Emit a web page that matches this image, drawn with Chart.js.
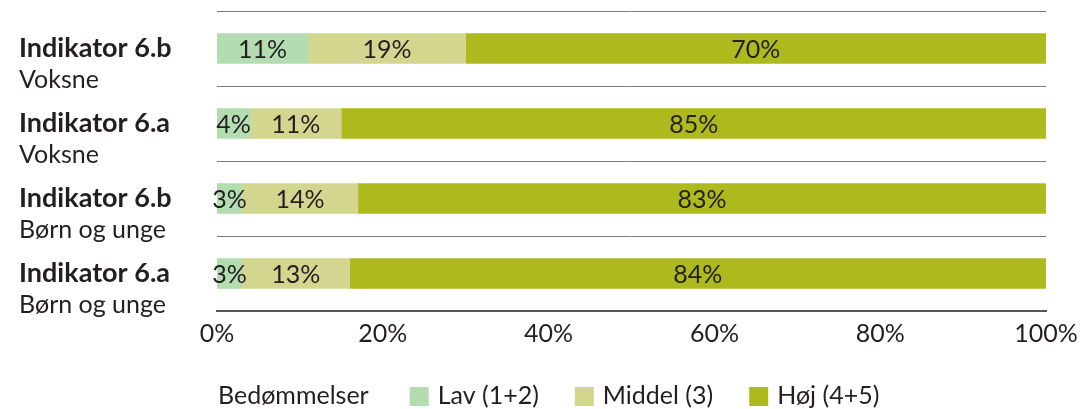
<!DOCTYPE html>
<html>
<head>
<meta charset="utf-8">
<script src="https://cdn.jsdelivr.net/npm/chart.js@4"></script>
<style>
  html, body { margin: 0; padding: 0; background: #fff; }
</style>
</head>
<body>
<canvas id="graf" width="1081" height="409"></canvas>
<script>
// Kategorier (to linjer pr. søjle)
const indikatorer = ["Indikator 6.b", "Indikator 6.a", "Indikator 6.b", "Indikator 6.a"];
const grupper = ["Voksne", "Voksne", "Børn og unge", "Børn og unge"];

// Andele i procent
const lav = [11, 4, 3, 3];
const middel = [19, 11, 14, 13];
const hoej = [70, 85, 83, 84];

const serier = ["Lav (1+2)", "Middel (3)", "Høj (4+5)"];
const farver = ["#b4dcb1", "#d3d68f", "#aeb91e"];
const legendTitel = "Bedømmelser";

const FONT = "Lato";
const tekstFarve = "#231f20";

// Etiketter i søjlerne
const procentEtiketter = {
    id: "procentEtiketter",
    afterDatasetsDraw(chart) {
        const ctx = chart.ctx;
        ctx.save();
        ctx.font = "25px " + FONT;
        ctx.fillStyle = tekstFarve;
        ctx.textAlign = "center";
        ctx.textBaseline = "middle";
        chart.data.datasets.forEach((ds, i) => {
            chart.getDatasetMeta(i).data.forEach((bar, j) => {
                const midt = (bar.base + bar.x) / 2;
                ctx.fillText(ds.data[j] + "%", midt, bar.y + 1);
            });
        });
        ctx.restore();
    }
};

// Kategori-tekst til venstre: fed første linje, normal anden linje
const kategoriTekst = {
    id: "kategoriTekst",
    afterDraw(chart) {
        const ctx = chart.ctx;
        const y = chart.scales.y;
        ctx.save();
        ctx.fillStyle = tekstFarve;
        ctx.textAlign = "left";
        ctx.textBaseline = "middle";
        indikatorer.forEach((navn, i) => {
            const py = y.getPixelForValue(i);
            ctx.font = "bold 27px " + FONT;
            ctx.fillText(navn, 19, py);
            ctx.font = "25px " + FONT;
            ctx.fillText(grupper[i], 19, py + 31);
        });
        ctx.restore();
    }
};

// Forklaring nederst med titel foran
const forklaring = {
    id: "forklaring",
    afterDraw(chart) {
        const ctx = chart.ctx;
        const yMidt = 396;
        let x = 218;
        ctx.save();
        ctx.font = "25px " + FONT;
        ctx.fillStyle = tekstFarve;
        ctx.textAlign = "left";
        ctx.textBaseline = "middle";
        ctx.fillText(legendTitel, x, yMidt);
        x += ctx.measureText(legendTitel).width + 41;
        chart.data.datasets.forEach(ds => {
            ctx.fillStyle = ds.backgroundColor;
            ctx.fillRect(x, yMidt - 9, 19, 19);
            x += 28;
            ctx.fillStyle = tekstFarve;
            ctx.fillText(ds.label, x, yMidt);
            x += ctx.measureText(ds.label).width + 36;
        });
        ctx.restore();
    }
};

const ctx = document.getElementById("graf").getContext("2d");
const graf = new Chart(ctx, {
    type: "bar",
    data: {
        labels: indikatorer.map((n, i) => n + " " + grupper[i]),
        datasets: [
            { label: serier[0], data: lav, backgroundColor: farver[0] },
            { label: serier[1], data: middel, backgroundColor: farver[1] },
            { label: serier[2], data: hoej, backgroundColor: farver[2] }
        ]
    },
    options: {
        indexAxis: "y",
        responsive: false,
        animation: false,
        barThickness: 30,
        layout: { padding: { left: 217, right: 35, top: 11, bottom: 58 } },
        plugins: {
            legend: { display: false },
            tooltip: { enabled: false }
        },
        scales: {
            x: {
                stacked: true,
                min: 0,
                max: 100,
                afterFit: s => { s.paddingLeft = 0; s.paddingRight = 0; s.height = 40; },
                ticks: {
                    stepSize: 20,
                    maxRotation: 0,
                    callback: v => v + "%",
                    font: { family: FONT, size: 25 },
                    color: tekstFarve,
                    padding: 0
                },
                grid: { display: false },
                border: { display: true, color: "#555", width: 2 }
            },
            y: {
                stacked: true,
                afterFit: s => { s.width = 0; },
                ticks: { display: false },
                grid: { offset: true, color: "#7a7a7a", lineWidth: 1, drawTicks: false },
                border: { display: false }
            }
        }
    },
    plugins: [procentEtiketter, kategoriTekst, forklaring]
});
</script>
</body>
</html>
